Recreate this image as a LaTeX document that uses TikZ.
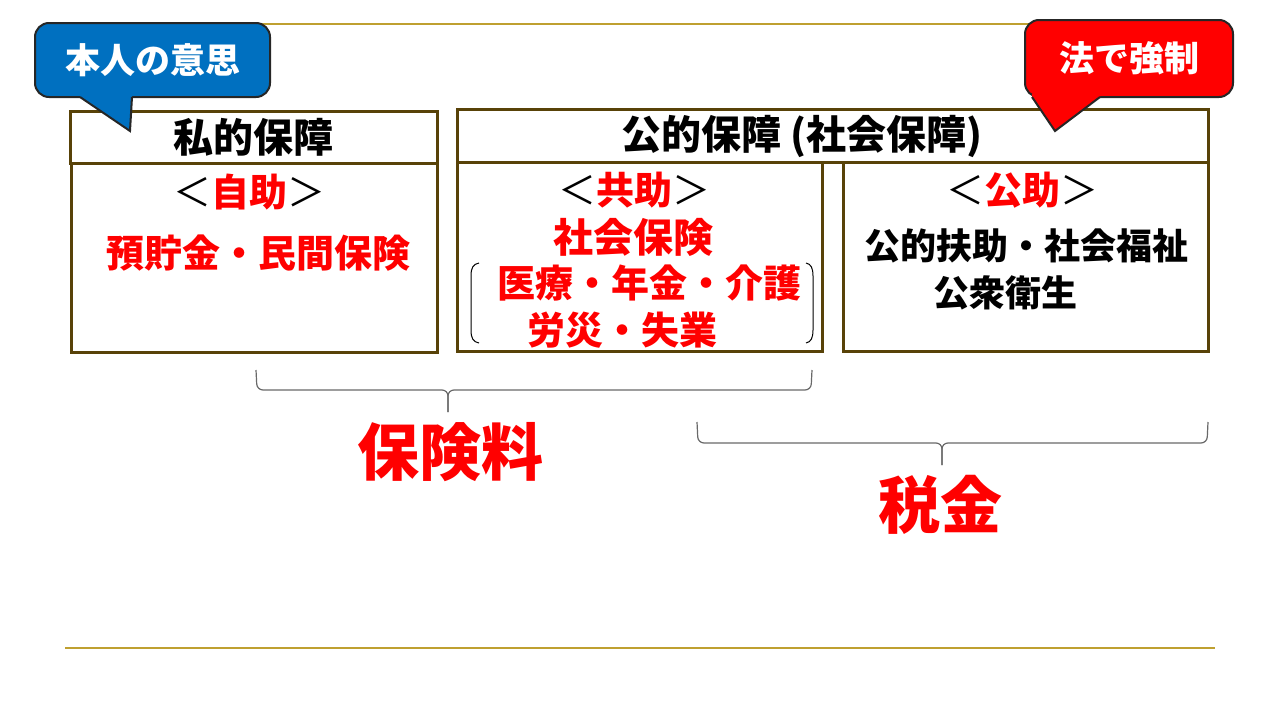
\documentclass[tikz,border=0pt]{standalone}
\usepackage{fontspec}
\newfontfamily\jpfont{Noto Sans CJK JP}
\usetikzlibrary{positioning}
\definecolor{rulegold}{RGB}{191,160,48}
\definecolor{boxbrown}{RGB}{88,66,8}
\definecolor{sayblue}{RGB}{0,112,192}
\definecolor{sayred}{RGB}{255,0,0}
\definecolor{bracegrey}{RGB}{105,105,105}

\begin{document}
\begin{tikzpicture}[x=1pt,y=-1pt,
    fs/.style={font=\jpfont\bfseries\fontsize{#1}{#1}\selectfont},
    frame/.style={draw=boxbrown,line width=3pt,inner sep=0pt},
    bubble/.style={line width=2pt,rounded corners=14pt,text=white,inner sep=0pt},
    redword/.style={text=sayred},
    bracket/.style={draw=bracegrey,line width=1.2pt}]
    \useasboundingbox (0,0) rectangle (1280,720);
    % Slide rules
    \draw[rulegold,line width=2.5pt] (65,24) -- (1215,24);
    \draw[rulegold,line width=2.5pt] (65,648) -- (1215,648);
    % Private side
    \node[frame,fs=40,minimum width=367pt,minimum height=52pt] (privhead) at (253.5,137) {私的保障};
    \node[frame,minimum width=366pt,minimum height=189pt] (privbody) at (254,257.5) {};
    \node[fs=38] (jijo) at (249,192)
      {{\mdseries ＜}{\color{sayred}自助}{\mdseries ＞}};
    \node[fs=38,redword] (savings) at (258,253) {預貯金・民間保険};
    % Public side
    \node[frame,minimum width=751pt,minimum height=53pt] (pubhead) at (832.5,135.5) {};
    \node[fs=40] (pubtitle) at (802,136) {公的保障 (社会保障)};
    \node[frame,minimum width=365pt,minimum height=189pt] (kyobody) at (639.5,256.5) {};
    \node[frame,minimum width=365pt,minimum height=189pt] (kobody) at (1025.5,256.5) {};
    % Mutual aid
    \node[fs=38] (kyojo) at (634,190)
      {{\mdseries ＜}{\color{sayred}共助}{\mdseries ＞}};
    \node[fs=40,redword] (shaho) at (633,237) {社会保険};
    \node[fs=38,redword] (iryo) at (649,283) {医療・年金・介護};
    \node[fs=38,redword] (rosai) at (622,330) {労災・失業};
    \draw[line width=1pt] (479,263) .. controls (473,264) and (471,268) .. (471,276)
      -- (471,330) .. controls (471,338) and (473,342) .. (479,343);
    \draw[line width=1pt] (806,263) .. controls (811,264) and (813,268) .. (813,276)
      -- (813,330) .. controls (813,338) and (811,342) .. (806,343);
    % Public aid
    \node[fs=38] (kojo) at (1022,190)
      {{\mdseries ＜}{\color{sayred}公助}{\mdseries ＞}};
    \node[fs=36] (fujo) at (1026,246) {公的扶助・社会福祉};
    \node[fs=36] (eisei) at (1005,293) {公衆衛生};
    % Braces and funding
    \draw[bracket,rounded corners=6pt] (256,370) -- (257,390) -- (448,390) -- (448,412);
    \draw[bracket,rounded corners=6pt] (812,370) -- (811,390) -- (448,390) -- (448,412);
    \node[fs=62,redword] (premium) at (450,452) {保険料};
    \draw[bracket,rounded corners=6pt] (697,422) -- (698,443) -- (942,443) -- (942,465);
    \draw[bracket,rounded corners=6pt] (1208,422) -- (1207,443) -- (942,443) -- (942,465);
    \node[fs=62,redword] (tax) at (940,505) {税金};
    % Speech bubbles
    \node[bubble,draw=black!85,fill=sayblue,fs=35,minimum width=235pt,minimum height=74pt]
      (will) at (152.5,60) {本人の意思};
    \fill[sayblue] (80,94) -- (80,97) -- (130,131) -- (132,97) -- (132,94) -- cycle;
    \draw[line width=2pt,black!85] (80,97) -- (130,131) -- (132,97);
    \node[bubble,draw=black!85,fill=sayred,fs=35,minimum width=208pt,minimum height=77pt]
      (law) at (1129,58.5) {法で強制};
    \fill[sayred] (1032,94) -- (1032,97) -- (1055,131) -- (1100,97) -- (1100,94) -- cycle;
    \draw[line width=2pt,black!85] (1032,97) -- (1055,131) -- (1100,97);
\end{tikzpicture}
\end{document}
